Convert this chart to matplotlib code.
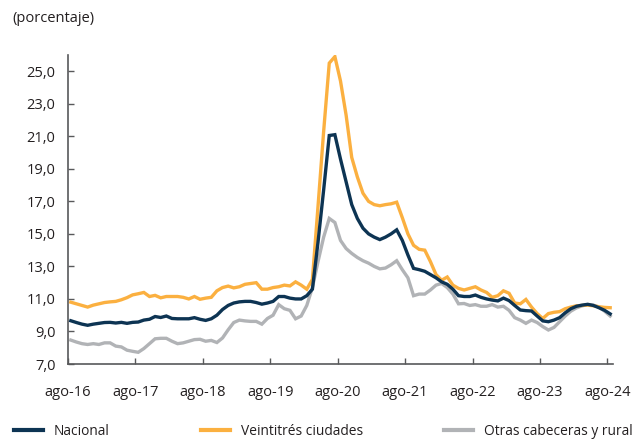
import numpy as np
import matplotlib
matplotlib.use("Agg")
import matplotlib.pyplot as plt
from matplotlib.lines import Line2D

plt.rcParams['font.family'] = ['Open Sans', 'DejaVu Sans']

# Monthly series, ago-2016 .. ago-2024
nacional = [9.66, 9.55, 9.45, 9.38, 9.45, 9.5, 9.55, 9.56, 9.52, 9.56, 9.5, 9.56,
            9.58, 9.7, 9.75, 9.92, 9.86, 9.95, 9.8, 9.78, 9.78, 9.78, 9.85, 9.75,
            9.68, 9.78, 10.0, 10.35, 10.6, 10.75, 10.82, 10.85, 10.85, 10.78, 10.68, 10.75,
            10.85, 11.15, 11.15, 11.05, 11.0, 11.0, 11.2, 11.6, 14.5, 17.7, 21.05, 21.1,
            19.6, 18.2, 16.8, 15.95, 15.35, 15.0, 14.8, 14.65, 14.8, 15.0, 15.25, 14.6,
            13.7, 12.88, 12.8, 12.7, 12.5, 12.3, 12.05, 11.9, 11.6, 11.2, 11.15, 11.15,
            11.24, 11.1, 11.0, 10.93, 10.88, 11.05, 10.9, 10.6, 10.32, 10.28, 10.26, 9.95,
            9.65, 9.6, 9.7, 9.85, 10.15, 10.4, 10.55, 10.62, 10.67, 10.6, 10.46, 10.3,
            10.08]
ciudades = [10.8, 10.7, 10.6, 10.5, 10.62, 10.7, 10.78, 10.82, 10.85, 10.95, 11.08, 11.25,
            11.32, 11.4, 11.15, 11.22, 11.07, 11.15, 11.15, 11.15, 11.1, 11.0, 11.15, 10.98,
            11.05, 11.1, 11.5, 11.7, 11.79, 11.68, 11.75, 11.9, 11.95, 12.0, 11.6, 11.6,
            11.7, 11.75, 11.85, 11.8, 12.05, 11.85, 11.6, 12.2, 16.7, 21.3, 25.5, 25.9,
            24.4, 22.3, 19.7, 18.5, 17.5, 17.0, 16.8, 16.73, 16.8, 16.85, 16.95, 16.0,
            15.0, 14.3, 14.05, 14.0, 13.3, 12.5, 12.15, 12.35, 11.85, 11.65, 11.55, 11.65,
            11.75, 11.55, 11.4, 11.1, 11.2, 11.5, 11.35, 10.75, 10.7, 10.97, 10.5, 10.1,
            9.8, 10.1, 10.18, 10.22, 10.4, 10.5, 10.58, 10.6, 10.62, 10.58, 10.52, 10.48,
            10.46]
otras = [8.47, 8.35, 8.25, 8.2, 8.25, 8.2, 8.3, 8.3, 8.1, 8.05, 7.85, 7.78,
         7.72, 7.95, 8.25, 8.55, 8.58, 8.58, 8.4, 8.25, 8.3, 8.4, 8.5, 8.52,
         8.4, 8.45, 8.32, 8.6, 9.1, 9.55, 9.7, 9.65, 9.62, 9.62, 9.45, 9.8,
         10.0, 10.65, 10.4, 10.3, 9.78, 9.95, 10.6, 11.7, 13.3, 14.8, 15.95, 15.7,
         14.6, 14.1, 13.8, 13.55, 13.35, 13.2, 13.0, 12.85, 12.9, 13.1, 13.35, 12.8,
         12.3, 11.2, 11.3, 11.3, 11.55, 11.85, 11.95, 11.7, 11.3, 10.7, 10.72, 10.6,
         10.65, 10.55, 10.55, 10.65, 10.5, 10.55, 10.3, 9.85, 9.7, 9.5, 9.7, 9.55,
         9.3, 9.09, 9.25, 9.6, 9.95, 10.25, 10.45, 10.58, 10.65, 10.62, 10.5, 10.25,
         9.95]
x_labels = ['ago-16', 'ago-17', 'ago-18', 'ago-19', 'ago-20', 'ago-21', 'ago-22', 'ago-23', 'ago-24']
series_names = ['Nacional', 'Veintitrés ciudades', 'Otras cabeceras y rural']
y_ticks = [7, 9, 11, 13, 15, 17, 19, 21, 23, 25]

c_nac = '#0d3453'
c_ciu = '#fbb040'
c_otr = '#b1b3b6'
txt = '#231f20'
axc = '#58595b'

fig = plt.figure(figsize=(6.37, 4.40), dpi=100)
ax = fig.add_axes([68/637, 76/440, (613-68)/637, (364-55)/440])

n = len(nacional)
xpos = np.arange(n) + 0.5
lw = 2.4
ax.plot(xpos, otras, color=c_otr, lw=lw, solid_joinstyle='miter', zorder=2)
ax.plot(xpos, ciudades, color=c_ciu, lw=lw, solid_joinstyle='miter', zorder=3)
ax.plot(xpos, nacional, color=c_nac, lw=lw, solid_joinstyle='miter', zorder=4)

ax.set_xlim(0, n)
ax.set_ylim(7, 26)
ax.set_yticks(y_ticks)
ax.set_yticklabels([f"{v:.1f}".replace('.', ',') for v in y_ticks])
ax.set_xticks(np.arange(len(x_labels)) * 12)
ax.set_xticklabels(x_labels)

for s in ['top', 'right']:
    ax.spines[s].set_visible(False)
for s in ['left', 'bottom']:
    ax.spines[s].set_color(axc)
    ax.spines[s].set_linewidth(1.2)

ax.tick_params(axis='y', direction='in', length=4, width=1, color=axc,
               labelsize=10.5, labelcolor=txt, pad=9)
ax.tick_params(axis='x', direction='in', length=4, width=1, color=axc,
               labelsize=10.5, labelcolor=txt, pad=15)

fig.text(12/637, 1 - 18/440, '(porcentaje)', fontsize=10.5, color=txt,
         ha='left', va='center')

handles = [Line2D([], [], color=c, lw=3) for c in (c_nac, c_ciu, c_otr)]
xs = [14, 201, 444]
for h, lab, x0 in zip(handles, series_names, xs):
    fig.legend([h], [lab], loc='center left', bbox_to_anchor=(x0/637, 1 - 431/440),
               frameon=False, fontsize=9.9, handlelength=2.1, handletextpad=0.8,
               borderpad=0, borderaxespad=0, labelcolor=txt)

fig.savefig('out.png', dpi=100)
